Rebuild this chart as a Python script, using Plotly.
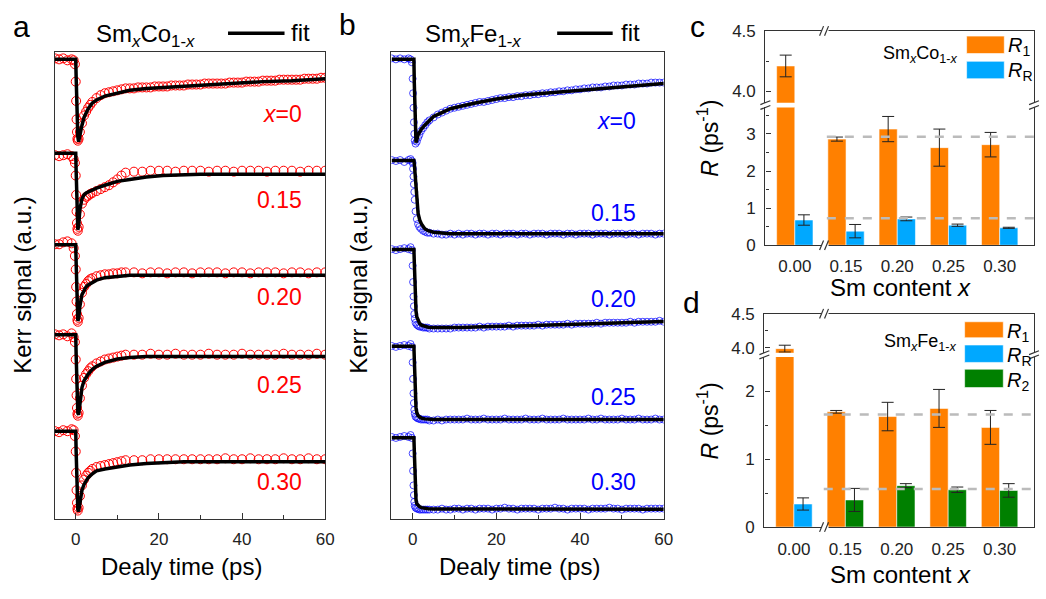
import plotly.graph_objects as go

# ======================= DATA =======================
# ---- panel a : SmxCo1-x, Kerr signal (a.u.) vs delay time (ps) ----
t_a = [-5, -4, -3, -2, -1, -0.5, -0.2, 0, 0.1, 0.2, 0.3, 0.4, 0.5, 0.7,
       1, 1.5, 2, 2.5, 3, 3.5, 4, 5, 6, 7, 8, 9, 10, 11, 12,
       14, 16, 18, 20, 22, 24, 26, 28, 30, 32, 34, 36, 38, 40, 42, 44, 46, 48,
       50, 52, 54, 56, 58, 60]
# x = 0 sample was recorded on a finer time grid
t_a0 = [-5, -4, -3, -2, -1, -0.5, -0.2, 0, 0.1, 0.2, 0.3, 0.4, 0.5, 0.7,
        1, 1.5, 2, 2.5, 3, 3.5, 4, 5, 6, 7, 8, 9, 10, 11, 12,
        13, 14, 15, 16, 17, 18, 19, 20, 21, 22, 23, 24, 25, 26, 27, 28, 29, 30,
        31, 32, 33, 34, 35, 36, 37, 38, 39, 40, 41, 42, 43, 44, 45, 46, 47, 48,
        49, 50, 51, 52, 53, 54, 55, 56, 57, 58, 59, 60]
a_x000 = [476, 475, 476, 474, 475, 474, 470, 452, 432, 413, 400, 393, 391, 393,
          400, 409, 417, 421, 425, 428, 431, 435, 438, 440, 441, 442, 443, 444, 445,
          445, 445, 446, 446, 446, 446, 447, 447, 447, 447, 448, 448, 448, 448, 449, 449, 449, 449,
          450, 450, 450, 450, 450, 450, 451, 451, 451, 451, 452, 452, 452, 452, 453, 453, 453, 453,
          454, 454, 454, 454, 454, 454, 455, 455, 455, 455, 456, 456]
a_x015 = [376, 375, 376, 377, 375, 372, 368, 355, 335, 318, 306, 300, 298, 302,
          315, 326, 330, 333, 334, 336, 337, 339, 341, 343, 345, 348, 351, 355, 358,
          359, 359, 360, 360, 360, 359, 360, 360, 360, 359, 360, 360, 359, 360, 360,
          360, 359, 360, 360, 360, 359, 360, 360, 360]
a_x020 = [284, 284, 286, 287, 285, 280, 272, 258, 240, 225, 212, 206, 204, 208,
          222, 234, 240, 243, 246, 248, 249, 251, 252, 253, 253, 254, 254, 255, 255,
          255, 254, 255, 255, 254, 255, 255, 254, 255, 255, 255, 254, 255, 255, 254,
          255, 255, 255, 254, 255, 255, 254, 255, 255]
a_x025 = [191, 190, 191, 189, 192, 188, 183, 165, 145, 128, 115, 109, 107, 110,
          125, 138, 146, 150, 153, 156, 158, 161, 163, 165, 166, 167, 168, 169, 170,
          170, 170, 171, 170, 170, 171, 170, 170, 170, 171, 170, 170, 170, 171, 170,
          170, 170, 170, 171, 170, 170, 170, 171, 170]
a_x030 = [91, 90, 92, 91, 93, 92, 86, 70, 48, 30, 17, 11, 9, 12,
          24, 35, 41, 45, 48, 50, 52, 54, 55, 56, 57, 58, 59, 60, 61,
          61, 61, 62, 62, 62, 62, 62, 62, 62, 62, 62, 63, 62, 62, 63,
          62, 62, 62, 63, 62, 62, 63, 62, 62]

tf_a = [-5.1, 0, 0.1, 0.2, 0.3, 0.5, 0.7, 1, 1.5, 2, 2.5, 3, 4, 5, 7, 10, 13,
        17, 21, 26, 30, 37, 45, 52, 60]
fa_x000 = [475, 475, 457, 432, 412, 395, 390, 397, 407, 415, 420, 424, 430, 433,
           437, 440, 443, 445, 446, 448, 449, 450, 452, 453, 455]
fa_x015 = [378, 378, 360, 335, 312, 299, 303, 320, 331, 335, 337, 338, 340, 342,
           345, 349, 351, 353.5, 355, 356, 356.3, 356.3, 356.3, 356.3, 356.3]
fa_x020 = [283.5, 283.5, 265, 240, 220, 205, 207, 220, 232, 237, 240, 242, 245, 247,
           249.5, 251, 252, 252, 252, 252, 252, 252, 252, 252, 252]
fa_x025 = [190.5, 190.5, 170, 145, 125, 110, 108, 122, 136, 143, 147, 150, 155, 158,
           162, 165.5, 167, 168, 168, 168, 168, 168, 168, 168, 168]
fa_x030 = [91, 91, 70, 45, 25, 10, 8, 18, 30, 36, 40, 43, 47, 50,
           52, 54, 56, 57.5, 58.5, 59.3, 59.3, 59.3, 59.3, 59.3, 59.3]

# ---- panel b : SmxFe1-x ----
t_b = [-5, -4, -3, -2, -1, -0.5, -0.2, 0, 0.1, 0.2, 0.3, 0.4, 0.5, 0.7,
       1, 1.3, 1.6, 2, 2.5, 3, 3.5, 4, 5, 6, 7, 8, 9, 10,
       11, 12, 13, 14, 15, 16, 17, 18, 19, 20, 21, 22, 23, 24, 25, 26, 27, 28, 29, 30,
       31, 32, 33, 34, 35, 36, 37, 38, 39, 40, 41, 42, 43, 44, 45, 46, 47, 48, 49, 50,
       51, 52, 53, 54, 55, 56, 57, 58, 59, 60]
b_x000 = [476, 475, 476, 475, 476, 475, 472, 455, 440, 425, 410, 398, 391, 388,
          390, 394, 397, 401, 404, 407, 410, 412, 415, 418, 420, 422, 424, 425,
          426, 427, 428, 429, 430, 431, 431, 432, 433, 434, 435, 435, 436, 436, 437, 437, 438, 438, 439, 439,
          440, 440, 441, 441, 442, 442, 443, 443, 444, 444, 445, 445, 446, 446, 446, 447, 447, 448, 448, 448,
          449, 449, 449, 450, 450, 450, 451, 451, 451, 451]
b_x015 = [371, 370, 371, 369, 371, 372, 370, 368, 362, 354, 346, 338, 330, 318,
          310, 305, 302, 300, 298, 297, 296, 296, 295, 295, 294, 294, 295, 294,
          295, 294, 295, 295, 294, 295, 295, 294, 295, 295, 294, 295, 295, 295, 294, 295, 295, 294, 295, 295,
          295, 294, 295, 295, 295, 294, 295, 295, 294, 295, 295, 295, 294, 295, 295, 295, 294, 295, 295, 295,
          294, 295, 295, 294, 295, 295, 295, 294, 295, 295]
b_x020 = [279, 278, 279, 280, 279, 281, 278, 262, 245, 230, 220, 212, 207, 203,
          201, 200, 199, 199, 198, 198, 198, 197, 197, 197, 197, 197, 197, 198,
          198, 198, 198, 198, 198, 199, 198, 199, 199, 199, 199, 199, 200, 199, 200, 200, 200, 200, 200, 201,
          200, 201, 201, 201, 201, 201, 202, 201, 202, 202, 202, 202, 202, 203, 202, 203, 203, 203, 203, 203,
          203, 204, 203, 204, 204, 204, 204, 204, 205, 204]
b_x025 = [179, 178, 179, 180, 179, 181, 178, 162, 145, 130, 120, 113, 109, 106,
          105, 104, 104, 103, 103, 103, 103, 102, 102, 103, 102, 103, 103, 103,
          103, 103, 104, 103, 103, 103, 104, 103, 103, 103, 103, 104, 103, 103, 103, 103, 104, 103, 103, 103,
          104, 103, 103, 103, 103, 104, 103, 103, 103, 103, 103, 104, 103, 103, 104, 103, 103, 103, 103, 104,
          103, 103, 103, 104, 103, 103, 103, 104, 103, 103]
b_x030 = [85, 84, 85, 86, 85, 87, 84, 68, 50, 35, 25, 18, 14, 12,
          11, 11, 10, 10, 10, 10, 10, 10, 10, 10, 11, 10, 10, 11,
          11, 10, 11, 11, 10, 11, 11, 11, 10, 11, 11, 12, 11, 11, 10, 11, 11, 11, 11, 10,
          11, 11, 11, 12, 11, 11, 10, 11, 11, 11, 11, 10, 11, 11, 11, 11, 12, 11, 11, 10,
          11, 11, 11, 11, 10, 11, 11, 11, 11, 11]

tf_b = [-5, 0.3, 0.4, 0.5, 0.6, 0.8, 1, 1.3, 1.7, 2.1, 2.9, 3.7, 5, 7, 9, 12,
        15, 20, 26, 30, 37, 45, 52, 60]
fb_x000 = [475, 475, 450, 420, 398, 389, 392, 397, 400, 403, 407, 410, 416, 420,
           424, 427, 430, 434, 438, 439.5, 442, 445, 447.5, 450]
fb_x015 = [370.5, 370.5, 367, 360, 352, 338, 326, 316, 309, 305, 300, 298, 296.5,
           295.5, 295, 295, 295, 295, 295, 295, 295, 295, 295, 295]
fb_x020 = [278.7, 278.7, 265, 245, 228, 215, 209, 205, 202, 200.5, 199, 198.3, 198,
           197.8, 197.7, 198, 198.5, 199, 199.8, 200.3, 201.2, 202.3, 203.3, 204.3]
fb_x025 = [178.7, 178.7, 165, 145, 128, 115, 110, 107, 105.5, 104.5, 103.7, 103.3,
           103, 103, 103, 103, 103, 103, 103, 103, 103, 103, 103, 103]
fb_x030 = [84.3, 84.3, 70, 50, 33, 20, 16, 14, 12.8, 12, 11.2, 10.9, 10.7, 10.7,
           10.7, 10.7, 10.7, 10.6, 10.6, 10.5, 10.5, 10.4, 10.4, 10.3]

a_labels = ["<i>x</i>=0", "0.15", "0.20", "0.25", "0.30"]

# ---- panels c, d : rates R (ps^-1) vs Sm content ----
sm_content = ["0.00", "0.15", "0.20", "0.25", "0.30"]
c_R1 = [4.21, 2.86, 3.13, 2.63, 2.71]
c_R1_err = [0.09, 0.055, 0.34, 0.50, 0.33]
c_RR = [0.68, 0.38, 0.71, 0.54, 0.47]
c_RR_err = [0.14, 0.18, 0.05, 0.03, 0.015]
c_mean_R1, c_mean_RR = 2.92, 0.73

d_R1 = [3.99, 1.70, 1.63, 1.75, 1.47]
d_R1_err = [0.05, 0.02, 0.21, 0.28, 0.25]
d_RR_cat = ["0.00"]
d_RR = [0.34]
d_RR_err = [0.09]
d_R2_cat = ["0.15", "0.20", "0.25", "0.30"]
d_R2 = [0.40, 0.61, 0.55, 0.54]
d_R2_err = [0.17, 0.03, 0.04, 0.10]
d_mean_R1, d_mean_R2 = 1.66, 0.56

# ======================= FIGURE =======================
W, H = 1046, 599
FONT = "Liberation Sans, Arial, sans-serif"
RED, BLUE = "#FF0000", "#0000FF"
ORANGE, SKY, GREEN = "#FF8000", "#00A8FF", "#008000"
AXC = "#333333"
TICKF = dict(size=17, color="#222")


def px(x):
    return x / W


def py(y):
    return 1 - y / H


fig = go.Figure()

# panel a traces
for tt, vals in [(t_a0, a_x000), (t_a, a_x015), (t_a, a_x020), (t_a, a_x025), (t_a, a_x030)]:
    fig.add_trace(go.Scatter(x=tt, y=vals, mode="markers", xaxis="x", yaxis="y",
                             marker=dict(symbol="circle-open", size=9, color=RED,
                                         line=dict(width=1)),
                             showlegend=False, hoverinfo="skip"))
for vals in [fa_x000, fa_x015, fa_x020, fa_x025, fa_x030]:
    fig.add_trace(go.Scatter(x=tf_a, y=vals, mode="lines", xaxis="x", yaxis="y",
                             line=dict(color="black", width=3.5), showlegend=False))

# panel b traces
for vals in [b_x000, b_x015, b_x020, b_x025, b_x030]:
    fig.add_trace(go.Scatter(x=t_b, y=vals, mode="markers", xaxis="x2", yaxis="y2",
                             marker=dict(symbol="circle-open", size=7,
                                         color="rgba(0,0,255,0.7)", line=dict(width=1)),
                             showlegend=False, hoverinfo="skip"))
for vals in [fb_x000, fb_x015, fb_x020, fb_x025, fb_x030]:
    fig.add_trace(go.Scatter(x=tf_b, y=vals, mode="lines", xaxis="x2", yaxis="y2",
                             line=dict(color="black", width=3.5), showlegend=False))

BW = 0.355
EDGE = dict(color="rgba(255,255,255,0.55)", width=1)


def add_bar(x, y, err, color, offset, xa, ya):
    fig.add_trace(go.Bar(x=x, y=y, offset=offset, width=BW, xaxis=xa, yaxis=ya,
                         marker=dict(color=color, line=EDGE),
                         error_y=dict(type="data", array=err, color="#222222",
                                      thickness=1, width=6),
                         showlegend=False))


for xa, ya in [("x3", "y3"), ("x4", "y4")]:
    add_bar(sm_content, c_R1, c_R1_err, ORANGE, -BW, xa, ya)
    add_bar(sm_content, c_RR, c_RR_err, SKY, 0, xa, ya)
for xa, ya in [("x5", "y5"), ("x6", "y6")]:
    add_bar(sm_content, d_R1, d_R1_err, ORANGE, -BW, xa, ya)
    add_bar(d_RR_cat, d_RR, d_RR_err, SKY, 0, xa, ya)
    add_bar(d_R2_cat, d_R2, d_R2_err, GREEN, 0, xa, ya)

# ---- axes ----
line_common = dict(showline=True, linecolor=AXC, linewidth=1.3, showgrid=False,
                   zeroline=False)
time_x = dict(range=[-5.1, 60], tickvals=[0, 20, 40, 60], ticks="inside", ticklen=6,
              tickwidth=1, tickcolor=AXC, mirror=True,
              minor=dict(tickvals=[10, 30, 50], ticks="inside", ticklen=4, tickcolor=AXC),
              tickfont=TICKF, ticklabelstandoff=4, **line_common)
kerr_y = dict(range=[0, 483], showticklabels=False, ticks="", mirror=True, **line_common)

cat_x = dict(type="category", categoryarray=sm_content, categoryorder="array",
             range=[-0.575, 4.67], **line_common)

fig.update_layout(
    width=W, height=H, margin=dict(l=0, r=0, t=0, b=0),
    paper_bgcolor="white", plot_bgcolor="white",
    font=dict(family=FONT, color="black"),
    bargap=0.29,
    xaxis=dict(domain=[px(55), px(328)], anchor="y", **time_x),
    yaxis=dict(domain=[py(527), py(44)], anchor="x", **kerr_y),
    xaxis2=dict(domain=[px(394.7), px(669.5)], anchor="y2", **time_x),
    yaxis2=dict(domain=[py(527), py(44)], anchor="x2", **kerr_y),
    # panel c lower / upper
    xaxis3=dict(domain=[px(772), px(1043)], anchor="y3", ticks="",
                tickfont=TICKF, ticklabelstandoff=5, **cat_x),
    yaxis3=dict(domain=[py(244), py(101.7)], anchor="x3", range=[0, 3.712],
                tickvals=[0, 1, 2, 3], ticks="inside", ticklen=5, tickcolor=AXC,
                minor=dict(tickvals=[0.5, 1.5, 2.5, 3.5], ticks="inside", ticklen=3,
                           tickcolor=AXC),
                mirror=True, tickfont=TICKF, ticklabelstandoff=5,
                **line_common),
    xaxis4=dict(domain=[px(772), px(1043)], anchor="y4", side="top",
                showticklabels=False, ticks="", **cat_x),
    yaxis4=dict(domain=[py(96.7), py(22.7)], anchor="x4", range=[3.906, 4.5],
                tickvals=[4.0, 4.5], ticktext=["4.0", "4.5"], ticks="inside", ticklen=5,
                tickcolor=AXC,
                minor=dict(tickvals=[4.25], ticks="inside", ticklen=3, tickcolor=AXC),
                mirror=True, tickfont=TICKF, ticklabelstandoff=5,
                **line_common),
    # panel d lower / upper
    xaxis5=dict(domain=[px(771), px(1043)], anchor="y5", ticks="",
                tickfont=TICKF, ticklabelstandoff=6, **cat_x),
    yaxis5=dict(domain=[py(535), py(359.3)], anchor="x5", range=[0, 2.51],
                tickvals=[0, 1, 2], ticks="inside", ticklen=5, tickcolor=AXC,
                minor=dict(tickvals=[0.5, 1.5], ticks="inside", ticklen=3, tickcolor=AXC),
                mirror=True, tickfont=TICKF, ticklabelstandoff=5,
                **line_common),
    xaxis6=dict(domain=[px(771), px(1043)], anchor="y6", side="top",
                showticklabels=False, ticks="", **cat_x),
    yaxis6=dict(domain=[py(355), py(314.7)], anchor="x6", range=[3.93, 4.5],
                tickvals=[4.0, 4.5], ticktext=["4.0", "4.5"], ticks="inside", ticklen=5,
                tickcolor=AXC,
                minor=dict(tickvals=[4.25], ticks="inside", ticklen=3, tickcolor=AXC),
                mirror=True, tickfont=TICKF, ticklabelstandoff=5,
                **line_common),
)

# ---- shapes ----
shapes = []
# mean (dashed) lines
for xr, yr, val, x0 in [("x3", "y3", c_mean_R1, 0.625), ("x3", "y3", c_mean_RR, 0.625),
                        ("x5", "y5", d_mean_R1, 0.58), ("x5", "y5", d_mean_R2, 0.58)]:
    shapes.append(dict(type="line", xref=xr, yref=yr, x0=x0, x1=4.67, y0=val, y1=val,
                       line=dict(color="#BBBBBB", width=2.5, dash="dash"), layer="above"))


def xbreak(X, Y):
    shapes.append(dict(type="rect", xref="paper", yref="paper", x0=px(X - 3), x1=px(X + 4),
                       y0=py(Y + 2), y1=py(Y - 2), fillcolor="white", line=dict(width=0),
                       layer="above"))
    for dx in (-3, 2):
        shapes.append(dict(type="line", xref="paper", yref="paper",
                           x0=px(X + dx - 2), y0=py(Y + 5), x1=px(X + dx + 2), y1=py(Y - 5),
                           line=dict(color=AXC, width=1.2), layer="above"))


def ybreak(X, Yt, Yb):
    for Y in (Yt, Yb):
        shapes.append(dict(type="line", xref="paper", yref="paper",
                           x0=px(X - 5), y0=py(Y + 2), x1=px(X + 5), y1=py(Y - 2),
                           line=dict(color=AXC, width=1.2), layer="above"))


xbreak(831.7, 244)
xbreak(831.7, 22.7)
xbreak(831.7, 535)
xbreak(831.7, 314.7)
ybreak(772, 96.7, 101.7)
ybreak(1043, 96.7, 101.7)
ybreak(771, 355, 359.3)
ybreak(1043, 355, 359.3)

# fit legend lines in a, b
for x0, x1 in [(230, 287), (562, 618)]:
    shapes.append(dict(type="line", xref="paper", yref="paper", x0=px(x0), x1=px(x1),
                       y0=py(25), y1=py(25), line=dict(color="black", width=3.5)))


def legrect(x0, x1, y0, y1, color):
    shapes.append(dict(type="rect", xref="paper", yref="paper", x0=px(x0), x1=px(x1),
                       y0=py(y1), y1=py(y0), fillcolor=color,
                       line=dict(color="rgba(255,255,255,0.6)", width=1)))


legrect(975, 1013, 28, 46, ORANGE)
legrect(975, 1013, 54, 72, SKY)
legrect(973, 1012, 323, 339.5, ORANGE)
legrect(973, 1012, 347, 365, SKY)
legrect(973, 1012, 372, 391, GREEN)

fig.update_layout(shapes=shapes)

# ---- annotations ----
anns = []


def ann(text, x, y, size, color="black", xanchor="center", yanchor="middle", angle=0):
    anns.append(dict(text=text, x=px(x), y=py(y), xref="paper", yref="paper",
                     showarrow=False, xanchor=xanchor, yanchor=yanchor, textangle=angle,
                     font=dict(size=size, color=color, family=FONT)))


# panel letters
ann("a", 21.5, 18, 30)
ann("b", 351, 16, 30)
ann("c", 704, 18, 30)
ann("d", 698, 303, 30)

# titles + fit legends
ann("Sm<sub><i>x</i></sub>Co<sub>1-<i>x</i></sub>", 146.5, 27, 24)
ann("fit", 292, 24, 24, xanchor="left")
ann("Sm<sub><i>x</i></sub>Fe<sub>1-<i>x</i></sub>", 477.5, 27, 24)
ann("fit", 624, 24, 24, xanchor="left")

# curve labels
for txt, y in zip(a_labels, [108, 197, 297, 388, 489]):
    ann(txt, 307, y, 23, color=RED, xanchor="right")
for txt, y in zip(a_labels, [116, 211, 299, 401, 488]):
    ann(txt, 644, y, 23, color=BLUE, xanchor="right")

# axis titles
ann("Dealy time (ps)", 183.5, 576, 24)
ann("Dealy time (ps)", 524, 576, 24)
ann("Kerr signal (a.u.)", 23, 285, 24, angle=-90)
ann("Kerr signal (a.u.)", 362, 285, 24, angle=-90)
ann("<i>R</i> (ps<sup>-1</sup>)", 714, 133, 23, angle=-90)
ann("<i>R</i> (ps<sup>-1</sup>)", 714, 425, 23, angle=-90)
ann("Sm content <i>x</i>", 908, 288, 24)
ann("Sm content <i>x</i>", 908, 584, 24)

# legend texts
ann("Sm<sub><i>x</i></sub>Co<sub>1-<i>x</i></sub>", 968, 47, 18, xanchor="right")
ann("<i>R</i><sub>1</sub>", 1015, 39, 20, xanchor="left")
ann("<i>R</i><sub>R</sub>", 1015, 65, 20, xanchor="left")
ann("Sm<sub><i>x</i></sub>Fe<sub>1-<i>x</i></sub>", 967, 344, 18, xanchor="right")
ann("<i>R</i><sub>1</sub>", 1014, 334, 20, xanchor="left")
ann("<i>R</i><sub>R</sub>", 1014, 359, 20, xanchor="left")
ann("<i>R</i><sub>2</sub>", 1014, 385, 20, xanchor="left")

fig.update_layout(annotations=anns)

fig.write_html("out.html")
